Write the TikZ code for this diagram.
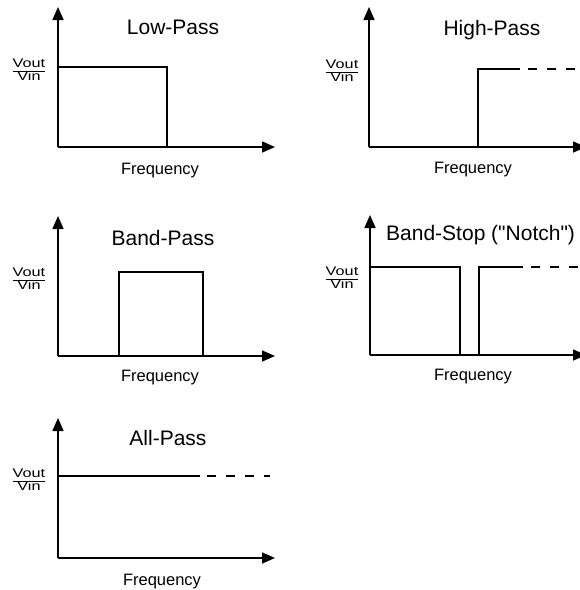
\documentclass[tikz,border=0pt]{standalone}
\usepackage{fontspec}
\usepackage{graphicx}
\setmainfont{Liberation Sans}
\usetikzlibrary{arrows.meta}
\tikzset{
  axis/.style={line width=1.6pt,-{Triangle[length=13pt,width=11pt]}},
  resp/.style={line width=1.3pt},
  dash resp/.style={line width=1.3pt,dash pattern=on 9pt off 10pt},
  ttl/.style={font=\fontsize{21}{23}\selectfont,inner sep=0pt},
  freq/.style={font=\fontsize{16.5}{18}\selectfont,inner sep=0pt},
  ratio/.style={font=\fontsize{12.5}{12.5}\selectfont,inner sep=0pt}
}
\newcommand{\vratio}{\scalebox{1.3}[1]{\setlength{\tabcolsep}{0pt}\renewcommand{\arraystretch}{0.95}\begin{tabular}{c}Vout\\\hline Vin\end{tabular}}}
\begin{document}
\begin{tikzpicture}[x=1pt,y=-1pt]
\useasboundingbox (0,0) rectangle (580,590);
\clip (0,0) rectangle (580,590);
% ---------- Low-Pass ----------
\coordinate (o1) at (58,147);
\coordinate (t1) at (58,7);
\coordinate (r1) at (275,147);
\coordinate (lp1) at (58,67);
\coordinate (lp2) at (167,67);
\coordinate (lp3) at (167,147);
\draw[resp] (lp1) -- (lp2) -- (lp3);
\draw[axis] (o1) -- (t1);
\draw[axis] (o1) -- (r1);
\node[ttl] (tlp) at (173,27) {Low-Pass};
\node[freq] (flp) at (160,171) {Frequency};
\node[ratio] (vlp) at (29,71) {\vratio};
% ---------- High-Pass ----------
\coordinate (o2) at (369,147);
\coordinate (t2) at (369,7);
\coordinate (r2) at (586,147);
\coordinate (hp1) at (478,147);
\coordinate (hp2) at (478,69);
\coordinate (hp3) at (520,69);
\coordinate (hp4) at (582,69);
\draw[resp] (hp1) -- (hp2) -- (hp3);
\draw[dash resp] (hp3) ++(8,0) -- (hp4);
\draw[axis] (o2) -- (t2);
\draw[axis] (o2) -- (r2);
\node[ttl] (thp) at (492,30) {High-Pass};
\node[freq] (fhp) at (473,170) {Frequency};
\node[ratio] (vhp) at (342,72) {\vratio};
% ---------- Band-Pass ----------
\coordinate (o3) at (58,356);
\coordinate (t3) at (58,216);
\coordinate (r3) at (275,356);
\coordinate (bp1) at (119,356);
\coordinate (bp2) at (119,272);
\coordinate (bp3) at (203,272);
\coordinate (bp4) at (203,356);
\draw[resp] (bp1) -- (bp2) -- (bp3) -- (bp4);
\draw[axis] (o3) -- (t3);
\draw[axis] (o3) -- (r3);
\node[ttl] (tbp) at (163,238) {Band-Pass};
\node[freq] (fbp) at (160,378) {Frequency};
\node[ratio] (vbp) at (29,280) {\vratio};
% ---------- Band-Stop ----------
\coordinate (o4) at (370,355);
\coordinate (t4) at (370,215);
\coordinate (r4) at (586,355);
\coordinate (bs1) at (370,267);
\coordinate (bs2) at (460,267);
\coordinate (bs3) at (460,355);
\coordinate (bs4) at (479,355);
\coordinate (bs5) at (479,267);
\coordinate (bs6) at (523,267);
\coordinate (bs7) at (582,267);
\draw[resp] (bs1) -- (bs2) -- (bs3);
\draw[resp] (bs4) -- (bs5) -- (bs6);
\draw[dash resp] (bs6) ++(8,0) -- (bs7);
\draw[axis] (o4) -- (t4);
\draw[axis] (o4) -- (r4);
\node[ttl,anchor=west] (tbs) at (386,235) {Band-Stop (\textquotedbl Notch\textquotedbl)};
\node[freq] (fbs) at (473,377) {Frequency};
\node[ratio] (vbs) at (342,279) {\vratio};
% ---------- All-Pass ----------
\coordinate (o5) at (58,558);
\coordinate (t5) at (58,418);
\coordinate (r5) at (275,558);
\coordinate (ap1) at (58,476);
\coordinate (ap2) at (200,476);
\coordinate (ap3) at (270,476);
\draw[resp] (ap1) -- (ap2);
\draw[dash resp] (ap2) ++(7,0) -- (ap3);
\draw[axis] (o5) -- (t5);
\draw[axis] (o5) -- (r5);
\node[ttl] (tap) at (168,438) {All-Pass};
\node[freq] (fap) at (162,582) {Frequency};
\node[ratio] (vap) at (29,481) {\vratio};
\end{tikzpicture}
\end{document}
